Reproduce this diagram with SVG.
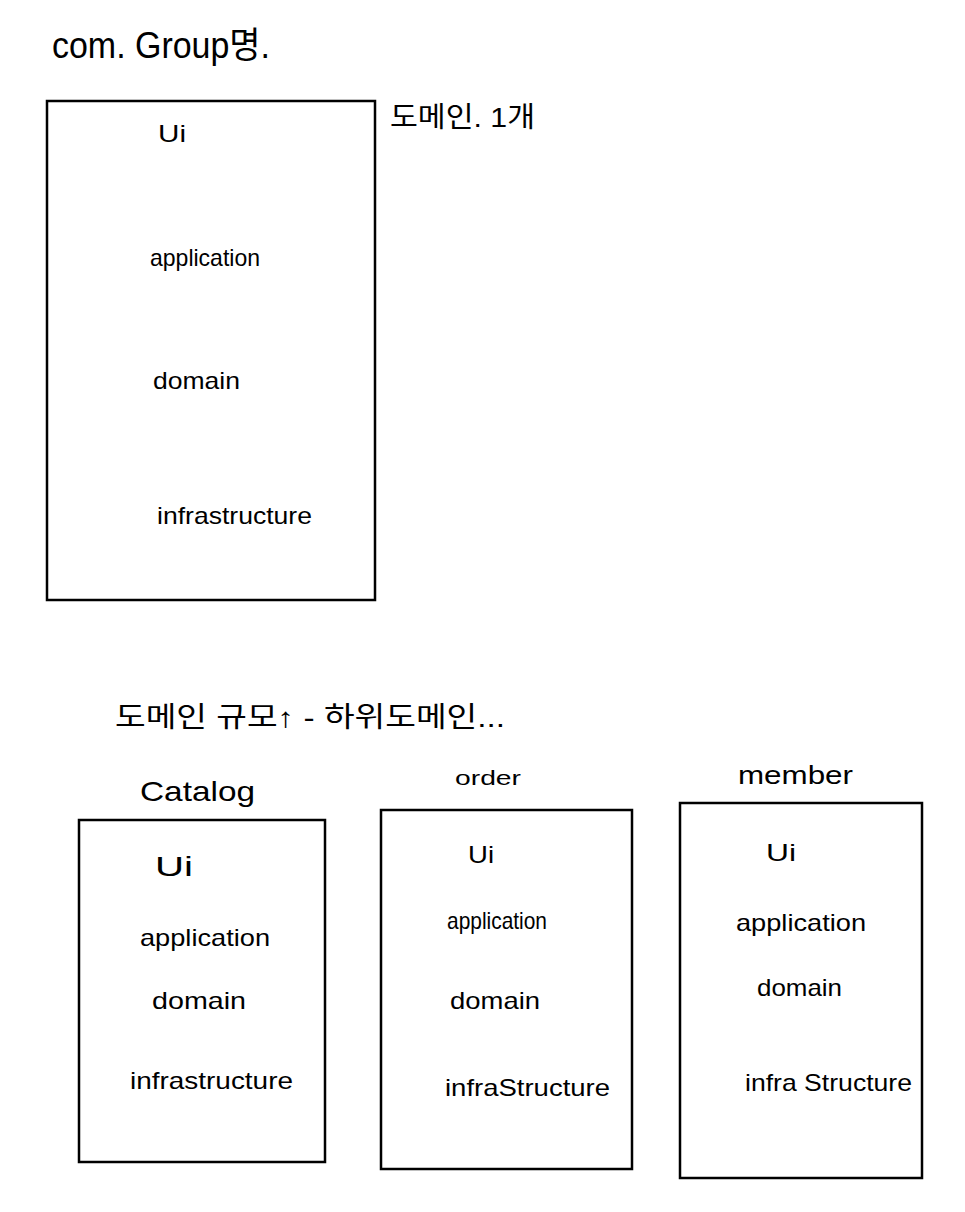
<svg xmlns="http://www.w3.org/2000/svg" width="965" height="1212" viewBox="0 0 965 1212">
<style>
.box{fill:none;stroke:#000;stroke-width:2.5}
text{font-family:"Liberation Sans","Noto Sans CJK KR",sans-serif;fill:#000}
.t{font-size:24px}
.h{font-size:30px}
</style>
<rect width="965" height="1212" fill="#fff"/>
<text class="h" x="52" y="58" font-size="36" textLength="218" lengthAdjust="spacingAndGlyphs" style="font-size:36px">com. Group명.</text>
<text class="t" x="390" y="127" textLength="145" lengthAdjust="spacingAndGlyphs" style="font-size:28px">도메인. 1개</text>
<text class="t" x="115" y="727" textLength="390" lengthAdjust="spacingAndGlyphs" style="font-size:28px">도메인 규모↑ - 하위도메인...</text>
<g id="main">
<rect class="box" x="47" y="101" width="328" height="499"/>
<text class="t" x="158" y="142" textLength="28" lengthAdjust="spacingAndGlyphs">Ui</text>
<text class="t" x="150" y="266" textLength="110" lengthAdjust="spacingAndGlyphs">application</text>
<text class="t" x="153" y="389" textLength="87" lengthAdjust="spacingAndGlyphs">domain</text>
<text class="t" x="157" y="524" textLength="155" lengthAdjust="spacingAndGlyphs">infrastructure</text>
</g>
<g id="catalog">
<text class="t" x="140" y="801" textLength="115" lengthAdjust="spacingAndGlyphs" style="font-size:28px">Catalog</text>
<rect class="box" x="79" y="820" width="246" height="342"/>
<text class="t" x="155" y="876" textLength="38" lengthAdjust="spacingAndGlyphs" style="font-size:28px">Ui</text>
<text class="t" x="140" y="946" textLength="130" lengthAdjust="spacingAndGlyphs">application</text>
<text class="t" x="152" y="1009" textLength="94" lengthAdjust="spacingAndGlyphs">domain</text>
<text class="t" x="130" y="1089" textLength="163" lengthAdjust="spacingAndGlyphs">infrastructure</text>
</g>
<g id="order">
<text class="t" x="455" y="785" textLength="66" lengthAdjust="spacingAndGlyphs" style="font-size:20px">order</text>
<rect class="box" x="381" y="810" width="251" height="359"/>
<text class="t" x="468" y="863" textLength="26" lengthAdjust="spacingAndGlyphs">Ui</text>
<text class="t" x="447" y="929" textLength="100" lengthAdjust="spacingAndGlyphs">application</text>
<text class="t" x="450" y="1009" textLength="90" lengthAdjust="spacingAndGlyphs">domain</text>
<text class="t" x="445" y="1096" textLength="165" lengthAdjust="spacingAndGlyphs">infraStructure</text>
</g>
<g id="member">
<text class="t" x="738" y="784" textLength="115" lengthAdjust="spacingAndGlyphs" style="font-size:26px">member</text>
<rect class="box" x="680" y="803" width="242" height="375"/>
<text class="t" x="766" y="861" textLength="30" lengthAdjust="spacingAndGlyphs">Ui</text>
<text class="t" x="736" y="931" textLength="130" lengthAdjust="spacingAndGlyphs">application</text>
<text class="t" x="757" y="996" textLength="85" lengthAdjust="spacingAndGlyphs">domain</text>
<text class="t" x="745" y="1091" textLength="167" lengthAdjust="spacingAndGlyphs">infra Structure</text>
</g>
</svg>
